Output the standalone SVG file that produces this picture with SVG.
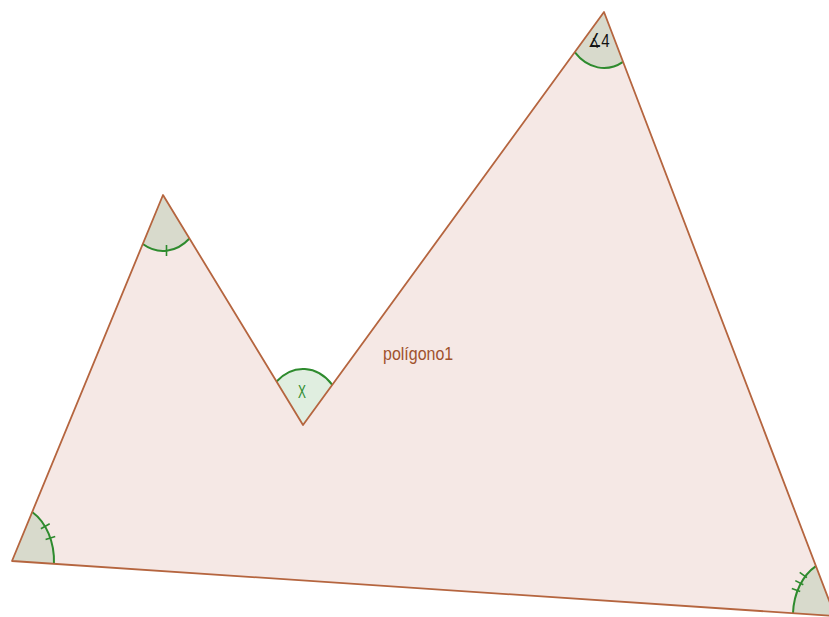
<svg xmlns="http://www.w3.org/2000/svg" width="829" height="617" viewBox="0 0 829 617">
<style>
.poly{fill:#f5e8e5;stroke:none}
.edge{fill:none;stroke:#b5653f;stroke-width:1.8;stroke-linejoin:round}
.ang{fill:#d8dacc;stroke:none}
.angc{fill:#e0eee0;stroke:none}
.arc{fill:none;stroke:#2e8b2e;stroke-width:2}
.tick{stroke:#2e8b2e;stroke-width:1.6}
.lbl{font-family:"Liberation Sans",Arial,sans-serif;font-size:16px;fill:#a0522d}
</style>
<rect width="829" height="617" fill="#ffffff"/>
<g id="polygon1">
<polygon class="poly" points="12,561 163,195 303,425 604,12 835,616"/>
</g>
<g id="angleA">
<path class="ang" d="M12 561 L32.2 511.95 A42 56 0 0 1 53.95 563.8 Z"/>
<path class="arc" d="M32.2 511.95 A42 56 0 0 1 53.95 563.8"/>
<line class="tick" x1="40.9" y1="528.7" x2="49.7" y2="523.7"/>
<line class="tick" x1="45.6" y1="539.5" x2="55.2" y2="536.5"/>
</g>
<g id="angleB">
<path class="ang" d="M163 195 L142.8 244.05 A42 56 0 0 0 189.46 238.47 Z"/>
<path class="arc" d="M142.8 244.05 A42 56 0 0 0 189.46 238.47"/>
<line class="tick" x1="166.5" y1="245" x2="166.5" y2="256"/>
</g>
<g id="angleC">
<path class="angc" d="M303 425 L276.54 381.53 A42 56 0 0 1 332.28 384.82 Z"/>
<path class="arc" d="M276.54 381.53 A42 56 0 0 1 332.28 384.82"/>
<text x="302" y="398" text-anchor="middle" font-family="Liberation Sans, Arial, sans-serif" font-size="14" fill="#2e8b2e" transform="translate(302 398) scale(0.85 1.35) translate(-302 -398)">X</text>
</g>
<g id="angleD">
<path class="ang" d="M604 12 L574.72 52.18 A42 56 0 0 0 623.08 61.9 Z"/>
<path class="arc" d="M574.72 52.18 A42 56 0 0 0 623.08 61.9"/>
<text x="588" y="47" font-family="Liberation Sans, Arial, sans-serif" font-size="15" fill="#111111" transform="translate(588 47) scale(1 1.25) translate(-588 -47)">∡4</text>
</g>
<g id="angleE">
<path class="ang" d="M835 616 L815.92 566.1 A42 56 0 0 0 793 613.2 Z"/>
<path class="arc" d="M815.92 566.1 A42 56 0 0 0 793 613.2"/>
<line class="tick" x1="791.8" y1="588.4" x2="800.2" y2="591.6"/>
<line class="tick" x1="795.3" y1="580.6" x2="803.3" y2="584.8"/>
<line class="tick" x1="799.7" y1="572.4" x2="806.9" y2="577.6"/>
</g>
<g id="connectors">
<polygon class="edge" points="12,561 163,195 303,425 604,12 835,616"/>
</g>
<g id="label">
<text class="lbl" x="383" y="360" transform="translate(383 360) scale(1 1.15) translate(-383 -360)">polígono1</text>
</g>
</svg>
